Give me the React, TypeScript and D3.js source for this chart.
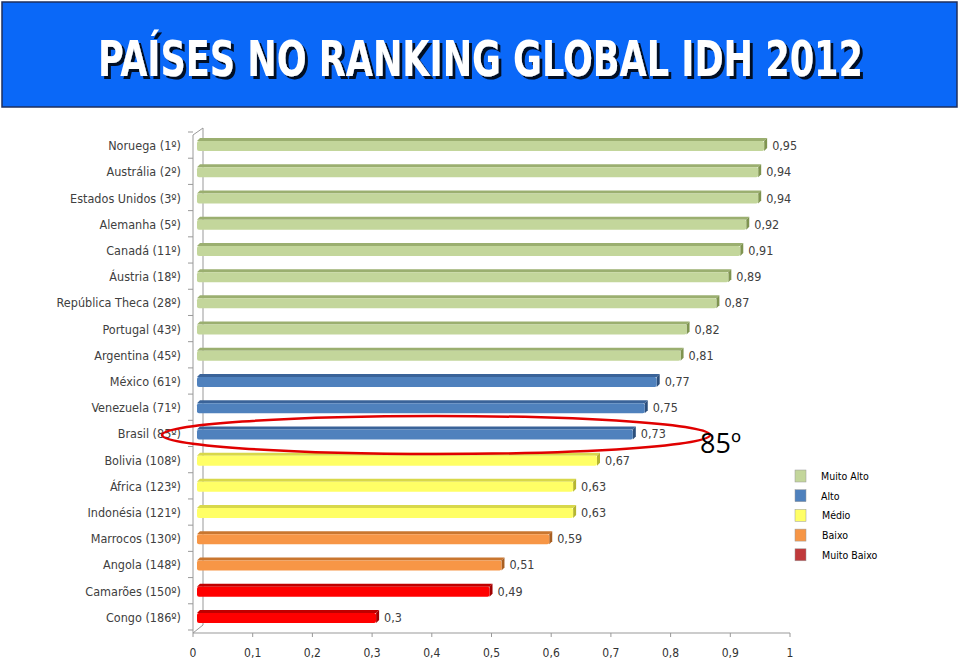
import React from "react";
import * as d3 from "d3";

const countries = [
  "Noruega (1º)", "Austrália (2º)", "Estados Unidos (3º)", "Alemanha (5º)", "Canadá (11º)",
  "Áustria (18º)", "República Theca (28º)", "Portugal (43º)", "Argentina (45º)", "México (61º)",
  "Venezuela (71º)", "Brasil (85º)", "Bolivia (108º)", "África (123º)", "Indonésia (121º)",
  "Marrocos (130º)", "Angola (148º)", "Camarões (150º)", "Congo (186º)",
];
const idh = [0.95, 0.94, 0.94, 0.92, 0.91, 0.89, 0.87, 0.82, 0.81, 0.77, 0.75, 0.73, 0.67, 0.63, 0.63, 0.59, 0.51, 0.49, 0.3];
const levels = ["Muito Alto", "Muito Alto", "Muito Alto", "Muito Alto", "Muito Alto", "Muito Alto", "Muito Alto", "Muito Alto", "Muito Alto",
  "Alto", "Alto", "Alto", "Médio", "Médio", "Médio", "Baixo", "Baixo", "Muito Baixo", "Muito Baixo"];
const legendLabels = ["Muito Alto", "Alto", "Médio", "Baixo", "Muito Baixo"];
const xTicks = [0, 0.1, 0.2, 0.3, 0.4, 0.5, 0.6, 0.7, 0.8, 0.9, 1];

const fills: Record<string, { front: string; top: string; side: string }> = {
  "Muito Alto": { front: "#C3D69B", top: "#9BAF70", side: "#7F9450" },
  "Alto": { front: "#4F81BD", top: "#3A6399", side: "#2C4F7C" },
  "Médio": { front: "#FFFF66", top: "#D8D84A", side: "#B5B530" },
  "Baixo": { front: "#F79646", top: "#C9762F", side: "#A85F22" },
  "Muito Baixo": { front: "#FF0000", top: "#C00000", side: "#A00000" },
};
const legendColors = ["#C3D69B", "#4F81BD", "#FFFF66", "#F79646", "#C0393B"];

const labelFont = "'Liberation Sans Narrow', 'DejaVu Sans Condensed', Lato, sans-serif";

export default function App() {
  const x = d3.scaleLinear().domain([0, 1]).range([193, 790]);
  const y = d3.scaleBand<string>().domain(countries).range([132, 630]).paddingInner(0).paddingOuter(0);
  const bw = y.bandwidth();
  const barH = 10;
  const dx = 3, dy = 3;
  const fmt = (v: number) => String(v).replace(".", ",");

  return (
    <svg width={960} height={660} style={{ position: "absolute", left: 0, top: 0, background: "#fff" }}>
      <defs>
        <filter id="tshadow" x="-5%" y="-20%" width="110%" height="150%">
          <feDropShadow dx={3} dy={3} stdDeviation={0.6} floodColor="#000" floodOpacity={0.85} />
        </filter>
      </defs>
      {/* title */}
      <rect x={2} y={2} width={955} height={105} fill="#0A68F8" stroke="#1F2F5C" strokeWidth={1.5} />
      <text x={98} y={76} textLength={765} lengthAdjust="spacingAndGlyphs" fontFamily={labelFont} fontWeight="bold" fontSize={49} fill="#fff" filter="url(#tshadow)">PAÍSES NO RANKING GLOBAL IDH 2012</text>

      {/* axes walls */}
      <line x1={203} y1={128} x2={203} y2={625} stroke="#999" strokeWidth={1} />
      <line x1={193} y1={135} x2={203} y2={128} stroke="#999" />
      <line x1={193} y1={633} x2={203} y2={625} stroke="#999" />
      <line x1={193} y1={135} x2={193} y2={633} stroke="#999" />
      <line x1={193} y1={633} x2={790} y2={633} stroke="#999" />
      {countries.map((c, i) => (
        <line key={"ct" + i} x1={188} x2={193} y1={(y(c) as number)} y2={(y(c) as number)} stroke="#999" />
      ))}
      <line x1={188} x2={193} y1={630} y2={630} stroke="#999" />
      {xTicks.map((t) => (
        <g key={"xt" + t}>
          <line x1={x(t)} x2={x(t)} y1={633} y2={637} stroke="#999" />
          <text x={x(t)} y={657} textAnchor="middle" fontFamily={labelFont} fontSize={12} fill="#333">{fmt(t)}</text>
        </g>
      ))}

      {/* bars */}
      {countries.map((c, i) => {
        const cy = (y(c) as number) + bw / 2;
        const x0 = x(0) + 4;
        const x1 = x(idh[i]) + 4;
        const top = cy - barH / 2 + 1;
        const f = fills[levels[i]];
        return (
          <g key={"b" + i}>
            <polygon points={`${x0},${top} ${x0 + dx},${top - dy} ${x1 + dx},${top - dy} ${x1},${top}`} fill={f.top} />
            <polygon points={`${x1},${top} ${x1 + dx},${top - dy} ${x1 + dx},${top - dy + barH} ${x1},${top + barH}`} fill={f.side} />
            <rect x={x0} y={top} width={x1 - x0} height={barH} fill={f.front} rx={2} />
            <text x={x1 + 8} y={cy + 5} fontFamily={labelFont} fontSize={12.5} fill="#404040">{fmt(idh[i])}</text>
            <text x={181} y={cy + 5} textAnchor="end" fontFamily={labelFont} fontSize={12.5} fill="#404040">{c}</text>
          </g>
        );
      })}

      {/* highlight */}
      <ellipse cx={436} cy={435} rx={274} ry={19} fill="none" stroke="#E00000" strokeWidth={2.5} />
      <text x={700} y={453} fontFamily="'Open Sans', 'DejaVu Sans', sans-serif" fontSize={27} fill="#000">85º</text>

      {/* legend */}
      {legendLabels.map((l, i) => (
        <g key={"lg" + i}>
          <rect x={795} y={470 + i * 19.7} width={11} height={12} fill={legendColors[i]} stroke="#999" strokeWidth={0.5} />
          <text x={821 + (i >= 2 ? 1 : 0)} y={480 + i * 19.7} fontFamily={labelFont} fontSize={10.5} fill="#000">{l}</text>
        </g>
      ))}
    </svg>
  );
}
